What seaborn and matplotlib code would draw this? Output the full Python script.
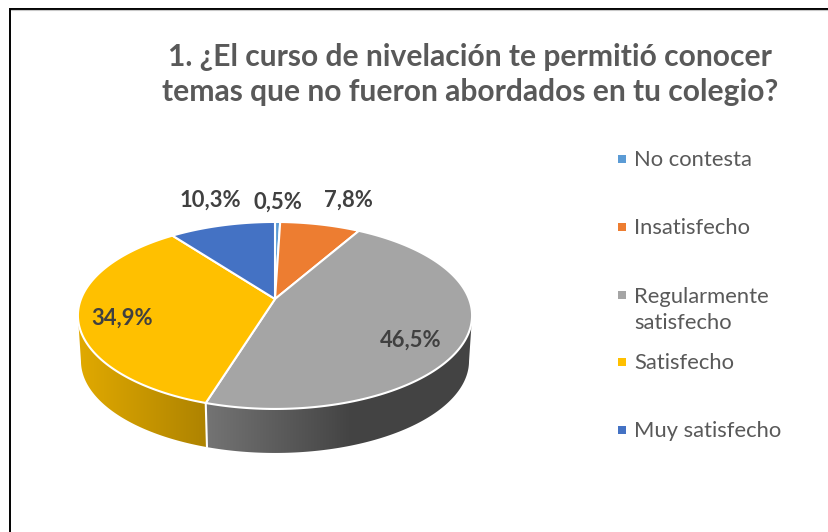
import numpy as np
import matplotlib.pyplot as plt
from matplotlib.patches import Polygon
import seaborn as sns

# ----------------------------------------------------------
# DATA
# ----------------------------------------------------------
categories = ["No contesta", "Insatisfecho", "Regularmente\nsatisfecho", "Satisfecho", "Muy satisfecho"]
values = [0.5, 7.8, 46.5, 34.9, 10.3]
title_text = "1. ¿El curso de nivelación te permitió conocer\ntemas que no fueron abordados en tu colegio?"

colors = ["#5B9BD5", "#ED7D31", "#A5A5A5", "#FFC000", "#4472C4"]
label_pos = [(278, 202), (348, 200), (411, 340), (122, 318), (210, 200)]
legend_y = [159, 227, 295, 362, 430]
legend_text_y = [160, 228, 310, 363, 431]

# side wall shading: (screen x, brightness) per slice
side_x = [[0, 829], [0, 829], [207, 350], [80, 207], [0, 829]]
side_f = [[0.6, 0.6], [0.6, 0.6], [0.70, 0.41], [0.88, 0.68], [0.6, 0.6]]

# ----------------------------------------------------------
# STYLE
# ----------------------------------------------------------
sns.set_theme(style="white")
plt.rcParams["font.family"] = ["Lato", "DejaVu Sans"]

fig = plt.figure(figsize=(8.29, 5.32), dpi=100)
ax = fig.add_axes([0, 0, 1, 1])
ax.axis("off")

# ----------------------------------------------------------
# TILTED PIE
# ----------------------------------------------------------
CX, CY = 275, 299
A, B, K = 194, 90.6, 0.176
DEPTH = 46
# the wall only shows between the two widest points of the ellipse
FRONT_START, FRONT_END = np.arccos(-K), 2 * np.pi - np.arccos(-K)


def project(theta, scale=1.0, drop=0):
    # theta runs clockwise from 12 o'clock, perspective squeezes the far side
    u = np.sin(theta) * scale
    v = np.cos(theta) * scale
    w = 1 + K * v
    return CX + A * u / w, CY - B * v / w + drop


edges = np.cumsum([0] + values) / sum(values) * 2 * np.pi

# side wall first, the top goes over it
grid_x = np.arange(829)
for i, color in enumerate(colors):
    t_start = max(edges[i], FRONT_START)
    t_end = min(edges[i + 1], FRONT_END)
    if t_end <= t_start:
        continue
    base = np.array(sns.desaturate(color, 1.0))
    th = np.linspace(t_start, t_end, 200)
    x0, y0 = project(th)
    x1, y1 = project(th, 0.985, DEPTH)
    shade = np.interp(grid_x, side_x[i], side_f[i])
    grad = (base[None, None, :] * shade[None, :, None]).clip(0, 1)
    im = ax.imshow(grad, extent=(0, 829, 532, 0), aspect="auto", interpolation="bilinear", zorder=2)
    wall = Polygon(np.c_[np.r_[x0, x1[::-1]], np.r_[y0, y1[::-1]]], closed=True, transform=ax.transData)
    im.set_clip_path(wall)

ax.set_xlim(0, 829)
ax.set_ylim(532, 0)

# white seam between the two visible walls
x0, y0 = project(edges[3])
x1, y1 = project(edges[3], 0.985, DEPTH)
ax.plot([x0, x1], [y0, y1], color="white", lw=1.5, zorder=3)

for i, color in enumerate(colors):
    th = np.linspace(edges[i], edges[i + 1], 200)
    x, y = project(th)
    ax.fill(np.r_[CX, x], np.r_[CY, y], facecolor=color, edgecolor="white", lw=1.5,
            joinstyle="round", zorder=4)

for v, (lx, ly) in zip(values, label_pos):
    ax.text(lx, ly, f"{v:.1f}%".replace(".", ","), ha="center", va="center",
            fontsize=15.8, fontweight="bold", color="#404040", zorder=5)

# ----------------------------------------------------------
# TITLE, LEGEND, FRAME
# ----------------------------------------------------------
ax.text(470, 74.5, title_text, ha="center", va="center", fontsize=21.6, fontweight="bold",
        color="#595959", linespacing=1.33)

ax.scatter([622] * len(colors), legend_y, marker="s", s=32, c=colors, linewidths=0)
for name, y in zip(categories, legend_text_y):
    ax.text(634.5, y, name, ha="left", va="center", fontsize=15.8, color="#595959", linespacing=1.38)

ax.plot([10, 10, 829], [532, 8.5, 8.5], color="black", lw=1.4, solid_joinstyle="miter")
ax.plot([11, 829], [9.8, 9.8], color="#c8c8c8", lw=0.8)

fig.savefig("out.png", dpi=100)
